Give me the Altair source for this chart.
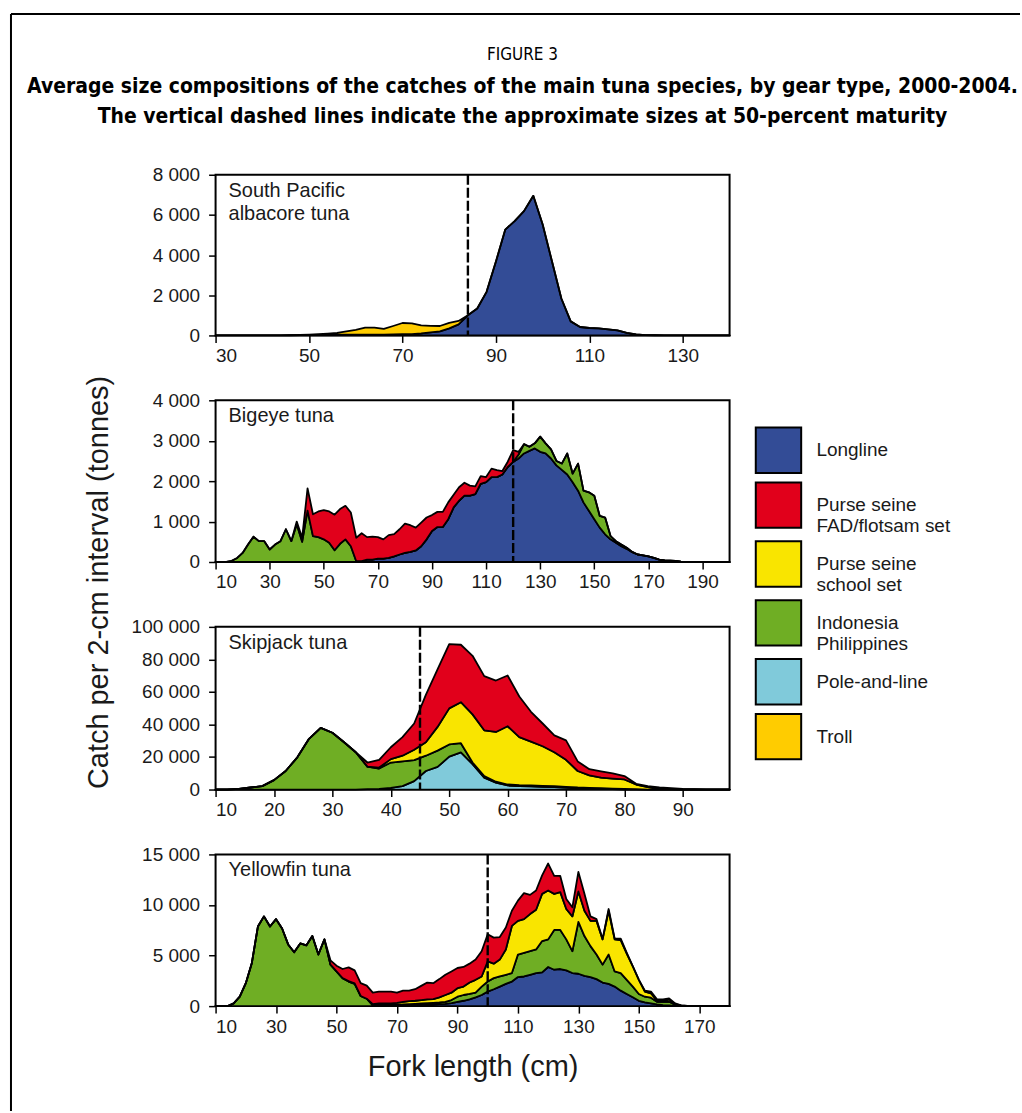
import altair as alt
import pandas as pd

# Gear categories in legend order, with their fill colours
gears = ["Longline", "Purse seine FAD/flotsam set", "Purse seine school set",
         "Indonesia Philippines", "Pole-and-line", "Troll"]
gear_colors = ["#334C96", "#E1001B", "#F9E500", "#6FAE24", "#80CADA", "#FFCC00"]
# Stacking position of each gear, bottom to top
stack_rank = {"Longline": 0, "Pole-and-line": 1, "Indonesia Philippines": 2,
              "Purse seine school set": 3, "Purse seine FAD/flotsam set": 4, "Troll": 5}

# Catch (tonnes) per 2-cm fork-length interval; each series is (first length, values)
albacore_longline = (46, [10, 20, 30, 30, 40, 40, 40, 40, 40, 40, 40, 50, 60, 70, 100, 150, 200,
                          350, 550, 1000, 1340, 2170, 3680, 5270, 5690, 6190, 6950, 5520, 3680,
                          1840, 700, 420, 370, 350, 300, 250, 130, 50, 20, 10])
albacore_troll = (48, [10, 10, 30, 50, 90, 160, 240, 345, 345, 290, 420, 560, 530, 400, 330,
                       270, 280, 170])

bigeye_longline = (64, [20, 60, 60, 85, 85, 100, 140, 185, 225, 250, 285, 390, 560, 765, 865,
                        865, 1060, 1350, 1515, 1640, 1640, 1680, 1935, 1975, 2100, 2100, 2165,
                        2350, 2475, 2560, 2685, 2750, 2810, 2725, 2685, 2560, 2390, 2280, 2165,
                        1975, 1765, 1475, 1265, 1060, 850, 685, 560, 475, 390, 325, 240, 185,
                        165, 140, 100, 60, 40, 35, 25, 10, 5])
bigeye_indo_small = (14, [5, 30, 100, 225, 430, 625, 515, 515, 310, 430, 515, 810, 515, 935, 500,
                          1270, 640, 615, 560, 475, 290, 450, 560, 390, 20])
bigeye_indo_large = (122, [100, 230, 100, 125, 375, 250, 225, 110, 155, 520, 210, 670, 290, 460,
                           580, 290, 415, 80, 40, 40, 25, 10])
bigeye_fad = (40, [65, 100, 550, 540, 635, 725, 775, 880, 860, 830, 835, 580, 690, 555, 565, 530,
                   475, 565, 550, 625, 725, 660, 565, 585, 540, 395, 375, 375, 415, 315, 335, 320,
                   250, 190, 190, 125, 210, 170, 85, 130, 295, 65])

skipjack_pole = (36, [200, 400, 1050, 2100, 5200, 11400, 13900, 20200, 22900, 15600, 7300, 4200,
                      2500, 2100, 1900, 1650, 1450, 1250, 830, 600, 400, 200])
skipjack_indo = (14, [400, 1250, 2100, 5800, 11400, 19800, 31200, 37900, 34900, 29100, 22900,
                      13900, 12500, 15550, 15200, 12900, 9400, 10000, 7500, 5600, 1000, 1000, 600,
                      600, 600, 600, 650, 650, 400, 420, 450, 430, 400, 400, 200])
skipjack_school = (38, [600, 2100, 3500, 6400, 8300, 14600, 22200, 25200, 29600, 28100, 30600,
                        35800, 29500, 27000, 24300, 20800, 16650, 10150, 7650, 6470, 6100, 5800,
                        2900, 1450, 400, 200])
skipjack_fad = (36, [2500, 4800, 7300, 11400, 16100, 29100, 35300, 39500, 35300, 36000, 33300,
                     31600, 31200, 25000, 18300, 14000, 10400, 11900, 5900, 3800, 3900, 3300,
                     2100, 400, 650, 850, 630, 400, 200])

yellowfin_longline = (64, [30, 70, 80, 100, 110, 130, 130, 130, 170, 185, 200, 230, 300, 430, 530,
                           670, 870, 1100, 1430, 1670, 1930, 2200, 2430, 2870, 2930, 3100, 3270,
                           3330, 3870, 3600, 3670, 3530, 3270, 3200, 3000, 2870, 2670, 2330, 2200,
                           1930, 1530, 1200, 870, 530, 370, 270, 170, 100, 70, 30, 30, 20, 15, 10])
yellowfin_indo = (16, [270, 930, 2270, 4270, 7870, 8870, 7870, 8600, 7670, 6100, 5330, 6200, 6000,
                       6930, 5100, 6600, 4100, 3430, 2770, 2430, 2200, 1000, 730, 70, 100, 60, 50,
                       30, 60, 70, 100, 140, 130, 145, 170, 200, 300, 500, 570, 530, 460, 830,
                       1000, 1100, 1000, 900, 840, 2230, 2340, 2330, 2330, 3100, 2730, 3930, 3860,
                       3070, 2160, 5130, 3930, 3060, 2430, 1770, 2900, 1500, 1740, 1400, 1060, 670,
                       560, 560, 260, 330, 360, 100])
yellowfin_school = (54, [50, 50, 0, 0, 130, 140, 140, 140, 200, 260, 300, 300, 330, 370, 370, 500,
                         670, 730, 840, 830, 1130, 1270, 1000, 2000, 1430, 1670, 2500, 4660, 3330,
                         3330, 3670, 3930, 4670, 4830, 3570, 3740, 3000, 3440, 3000, 2500, 2500,
                         3330, 2500, 4330, 3170, 3260, 2600, 2000, 1400, 500, 440, 100, 100, 240,
                         70, 40])
yellowfin_fad = (48, [430, 570, 900, 1350, 1280, 1270, 1300, 1130, 1160, 1160, 1160, 1000, 1100,
                      1030, 1140, 1400, 1660, 1570, 1800, 2000, 2100, 2000, 1940, 1870, 2000, 2500,
                      2670, 2570, 2230, 2170, 1500, 2000, 2570, 1900, 1900, 1830, 2670, 1770, 1600,
                      1000, 900, 1940, 1670, 440, 170, 0, 170, 70, 140, 70, 0, 0, 100, 160, 140,
                      140, 100, 70])

# Approximate fork length at 50-percent maturity
maturity = {"albacore": 84, "bigeye": 120, "skipjack": 45, "yellowfin": 100}

# Axis ranges and tick values
x_domains = {"albacore": [30, 140], "bigeye": [10, 200], "skipjack": [10, 98], "yellowfin": [10, 180]}
x_ticks = {"albacore": [30, 50, 70, 90, 110, 130],
           "bigeye": [10, 30, 50, 70, 90, 110, 130, 150, 170, 190],
           "skipjack": [10, 20, 30, 40, 50, 60, 70, 80, 90],
           "yellowfin": [10, 30, 50, 70, 90, 110, 130, 150, 170]}
y_domains = {"albacore": [0, 8000], "bigeye": [0, 4000], "skipjack": [0, 100000], "yellowfin": [0, 15000]}
y_ticks = {"albacore": [0, 2000, 4000, 6000, 8000], "bigeye": [0, 1000, 2000, 3000, 4000],
           "skipjack": [0, 20000, 40000, 60000, 80000, 100000], "yellowfin": [0, 5000, 10000, 15000]}
species_labels = {"albacore": "South Pacific\nalbacore tuna", "bigeye": "Bigeye tuna",
                  "skipjack": "Skipjack tuna", "yellowfin": "Yellowfin tuna"}

catches = {
    "albacore": {"Longline": [albacore_longline], "Troll": [albacore_troll]},
    "bigeye": {"Longline": [bigeye_longline],
               "Indonesia Philippines": [bigeye_indo_small, bigeye_indo_large],
               "Purse seine FAD/flotsam set": [bigeye_fad]},
    "skipjack": {"Pole-and-line": [skipjack_pole], "Indonesia Philippines": [skipjack_indo],
                 "Purse seine school set": [skipjack_school],
                 "Purse seine FAD/flotsam set": [skipjack_fad]},
    "yellowfin": {"Longline": [yellowfin_longline], "Indonesia Philippines": [yellowfin_indo],
                  "Purse seine school set": [yellowfin_school],
                  "Purse seine FAD/flotsam set": [yellowfin_fad]},
}


def long_table(species):
    lo, hi = x_domains[species]
    lengths = list(range(lo, hi + 1, 2))
    rows = []
    for gear, segments in catches[species].items():
        values = {length: 0 for length in lengths}
        for start, seg in segments:
            for i, v in enumerate(seg):
                values[start + 2 * i] = v
        for length in lengths:
            rows.append({"length": length, "gear": gear, "catch": values[length],
                         "rank": stack_rank[gear]})
    return pd.DataFrame(rows)


FONT = "Liberation Sans, Arial, Helvetica, sans-serif"
TITLE_FONT = "Liberation Sans Narrow, DejaVu Sans Condensed, Roboto Condensed, sans-serif"
TEXT_COLOR = "#1a1a1a"

legend = alt.Legend(
    orient="none", legendX=540, legendY=252, title=None, padding=0,
    symbolType="square", symbolSize=2070, symbolStrokeColor="black", symbolStrokeWidth=2,
    symbolOpacity=1, labelFont=FONT, labelFontSize=19, labelColor=TEXT_COLOR, labelLimit=400,
    labelOffset=14, rowPadding=1, labelBaseline="middle",
    labelExpr=("datum.label == 'Purse seine FAD/flotsam set' ? ['Purse seine', 'FAD/flotsam set'] : "
               "datum.label == 'Purse seine school set' ? ['Purse seine', 'school set'] : "
               "datum.label == 'Indonesia Philippines' ? ['Indonesia', 'Philippines'] : datum.label"),
)


def panel(species, height, y_title=None, x_title=None):
    df = long_table(species)
    y_axis = dict(values=y_ticks[species], labelExpr="replace(format(datum.value, ','), ',', ' ')",
                  title=None, labelPadding=9)
    if y_title:
        y_axis.update(title=y_title, titleFont=FONT, titleFontSize=29, titleFontWeight="normal",
                      titleColor=TEXT_COLOR, titleX=-117, titleY=-45, titleAlign="center",
                      titleBaseline="middle", titleAngle=270)
    x_axis = dict(values=x_ticks[species], title=None, labelPadding=4)
    if x_title:
        x_axis.update(title=x_title, titleFont=FONT, titleFontSize=29, titleFontWeight="normal",
                      titleColor=TEXT_COLOR, titlePadding=17)

    areas = alt.Chart(df).mark_area(
        stroke="black", strokeWidth=1.8, strokeJoin="round", interpolate="linear"
    ).encode(
        x=alt.X("length:Q", scale=alt.Scale(domain=x_domains[species], nice=False, zero=False),
                axis=alt.Axis(**x_axis)),
        y=alt.Y("catch:Q", stack="zero", scale=alt.Scale(domain=y_domains[species], nice=False),
                axis=alt.Axis(**y_axis)),
        color=alt.Color("gear:N", scale=alt.Scale(domain=gears, range=gear_colors), legend=legend),
        order=alt.Order("rank:Q", sort="ascending"),
    )
    dashed = alt.Chart(pd.DataFrame({"maturity": [maturity[species]]})).mark_rule(
        color="black", strokeWidth=2.4, strokeDash=[10, 3]
    ).encode(x="maturity:Q")
    label = alt.Chart(pd.DataFrame({"species": [species_labels[species]]})).mark_text(
        align="left", baseline="top", font=FONT, fontSize=20, lineBreak="\n", lineHeight=23,
        color=TEXT_COLOR
    ).encode(x=alt.value(13), y=alt.value(6), text="species:N")
    return alt.layer(areas, dashed, label).properties(width=515, height=height)


top_panel = panel("albacore", 161).properties(
    title=alt.TitleParams(
        text="FIGURE 3",
        subtitle=["Average size compositions of the catches of the main tuna species, by gear type, 2000-2004.",
                  "The vertical dashed lines indicate the approximate sizes at 50-percent maturity"],
        anchor="middle", frame="group", dx=50, offset=38,
        font=TITLE_FONT, fontSize=17, fontWeight="normal", color="black",
        subtitleFont=TITLE_FONT, subtitleFontSize=21, subtitleFontWeight="bold",
        subtitleColor="black", subtitleLineHeight=30, subtitlePadding=12,
    )
)

# Page frame: top and left border lines, drawn from the bottom panel
frame_top = alt.Chart(pd.DataFrame({"edge": ["top"]})).mark_rule(color="black", strokeWidth=2).encode(
    x=alt.value(-205), x2=alt.value(806), y=alt.value(-842))
frame_left = alt.Chart(pd.DataFrame({"edge": ["left"]})).mark_rule(color="black", strokeWidth=2).encode(
    x=alt.value(-205), y=alt.value(-842), y2=alt.value(257))
bottom_panel = alt.layer(panel("yellowfin", 152, x_title="Fork length (cm)"), frame_top, frame_left)

chart = alt.vconcat(
    top_panel,
    panel("bigeye", 162),
    panel("skipjack", 163, y_title="Catch per 2-cm interval (tonnes)"),
    bottom_panel,
    spacing=65, bounds="flush",
).properties(
    padding={"left": 9, "top": 11, "right": 0, "bottom": 0},
    background="white",
).configure_view(
    stroke="black", strokeWidth=2
).configure_axis(
    labelFont=FONT, labelFontSize=19, labelColor=TEXT_COLOR,
    tickColor="black", tickSize=7, tickWidth=1.5, domain=False, grid=False,
)

chart.save("out.html", embed_options={"renderer": "svg", "actions": False})
